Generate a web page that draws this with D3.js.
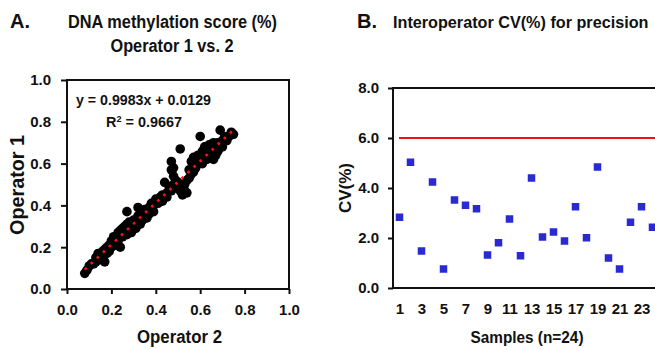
<!DOCTYPE html>
<html>
<head>
<meta charset="utf-8">
<script src="https://cdn.jsdelivr.net/npm/d3@7"></script>
<style>
html,body{margin:0;padding:0;background:#fff;}
svg{display:block;}
text{font-family:"Liberation Sans",Arial,Helvetica,sans-serif;font-weight:bold;fill:#111;}
</style>
</head>
<body>
<svg id="chart" width="655" height="350"></svg>
<script>
// ---------- Panel A data (Operator 2 = x, Operator 1 = y) ----------
const operator2 = [0.08,0.09,0.10,0.11,0.12,0.13,0.13,0.14,0.15,0.15,0.16,0.16,0.17,0.17,0.18,0.18,0.19,0.19,0.20,0.20,
  0.21,0.21,0.22,0.22,0.23,0.23,0.24,0.24,0.24,0.25,0.25,0.26,0.26,0.27,0.27,0.27,0.28,0.28,0.29,0.29,
  0.30,0.30,0.31,0.31,0.32,0.32,0.33,0.33,0.34,0.34,0.35,0.35,0.36,0.36,0.37,0.37,0.38,0.38,0.39,0.39,
  0.40,0.40,0.41,0.42,0.42,0.43,0.43,0.44,0.44,0.45,0.45,0.46,0.46,0.47,0.47,0.47,0.48,0.48,0.48,0.49,
  0.49,0.50,0.50,0.51,0.51,0.52,0.52,0.53,0.53,0.54,0.54,0.55,0.55,0.56,0.56,0.57,0.57,0.57,0.58,0.58,
  0.59,0.59,0.60,0.60,0.61,0.61,0.62,0.62,0.63,0.63,0.64,0.64,0.65,0.65,0.66,0.66,0.67,0.67,0.68,0.68,
  0.69,0.70,0.70,0.71,0.72,0.73,0.74,0.75];
const operator1 = [0.075,0.09,0.11,0.12,0.12,0.15,0.13,0.17,0.14,0.16,0.18,0.15,0.19,0.13,0.17,0.20,0.21,0.18,0.23,0.20,
  0.22,0.25,0.21,0.24,0.27,0.23,0.26,0.20,0.28,0.25,0.29,0.27,0.30,0.37,0.26,0.31,0.28,0.32,0.30,0.27,
  0.33,0.30,0.32,0.29,0.35,0.39,0.33,0.31,0.36,0.33,0.35,0.38,0.34,0.37,0.39,0.36,0.41,0.38,0.40,0.37,
  0.42,0.43,0.41,0.43,0.44,0.45,0.42,0.51,0.45,0.46,0.44,0.47,0.49,0.61,0.57,0.47,0.58,0.54,0.50,0.49,
  0.52,0.48,0.51,0.47,0.67,0.46,0.45,0.47,0.50,0.52,0.46,0.53,0.57,0.55,0.61,0.60,0.63,0.56,0.62,0.58,
  0.60,0.64,0.62,0.73,0.66,0.60,0.64,0.68,0.62,0.66,0.65,0.69,0.63,0.67,0.70,0.62,0.68,0.64,0.66,0.70,
  0.76,0.71,0.68,0.73,0.71,0.73,0.75,0.74];
const trendSlope = 0.9983, trendIntercept = 0.0129;
const trendRange = [0.08, 0.75];
const axisTicksA = [0, 0.2, 0.4, 0.6, 0.8, 1.0];

// ---------- Panel B data ----------
const samples = d3.range(1, 25);
const cvValues = [2.83,5.03,1.48,4.24,0.76,3.52,3.31,3.17,1.32,1.81,2.76,1.29,4.40,2.04,2.24,1.88,3.25,2.01,4.84,1.20,0.76,2.63,3.25,2.43];
const cvLimit = 6.0;
const sampleTicks = [1,3,5,7,9,11,13,15,17,19,21,23];
const cvTicks = [0, 2, 4, 6, 8];

const svg = d3.select("#chart");
const ink = "#111";

function label(x, y, str, size, opts = {}) {
  const t = svg.append("text").attr("x", x).attr("y", y).text(str)
    .attr("font-size", size).attr("text-anchor", opts.anchor || "middle");
  if (opts.len) t.attr("textLength", opts.len).attr("lengthAdjust", "spacingAndGlyphs");
  if (opts.rotate) t.attr("transform", `rotate(-90 ${x} ${y})`);
  return t;
}

// ================= Panel A =================
const xA = d3.scaleLinear().domain([0, 1]).range([67, 289]);
const yA = d3.scaleLinear().domain([0, 1]).range([289, 80]);

label(10, 28, "A.", 20, {anchor: "start"});
label(172.5, 28, "DNA methylation score (%)", 18, {len: 209});
label(172, 52, "Operator 1 vs. 2", 18, {len: 123});

// points
svg.append("g").selectAll("circle").data(operator2.map((d, i) => [d, operator1[i]]))
  .join("circle")
  .attr("cx", d => xA(d[0])).attr("cy", d => yA(d[1])).attr("r", 4.8)
  .attr("fill", "#000");

// trendline
svg.append("line")
  .attr("x1", xA(trendRange[0])).attr("y1", yA(trendSlope * trendRange[0] + trendIntercept))
  .attr("x2", xA(trendRange[1])).attr("y2", yA(trendSlope * trendRange[1] + trendIntercept))
  .attr("stroke", "#ff1010").attr("stroke-width", 2.6).attr("stroke-dasharray", "2.6,5.7");

// frame
svg.append("rect").attr("x", xA(0)).attr("y", yA(1))
  .attr("width", xA(1) - xA(0)).attr("height", yA(0) - yA(1))
  .attr("fill", "none").attr("stroke", ink).attr("stroke-width", 2);

const fmt = d3.format(".1f");
const gxA = svg.append("g").attr("transform", `translate(0,${yA(0)})`)
  .call(d3.axisBottom(xA).tickValues(axisTicksA).tickFormat(fmt).tickSize(5).tickPadding(10));
const gyA = svg.append("g").attr("transform", `translate(${xA(0)},0)`)
  .call(d3.axisLeft(yA).tickValues(axisTicksA).tickFormat(fmt).tickSize(6).tickPadding(10));
[gxA, gyA].forEach(g => {
  g.select(".domain").remove();
  g.selectAll("line").attr("stroke", ink).attr("stroke-width", 2);
  g.selectAll("text").attr("font-size", 15).attr("fill", ink)
    .style("font-family", '"Liberation Sans",Arial,sans-serif').style("font-weight", "bold");
});
gxA.selectAll("text").attr("dy", "0.71em");

label(76, 105, "y = 0.9983x + 0.0129", 14.2, {anchor: "start", len: 135});
svg.append("text").attr("x", 106).attr("y", 127).attr("font-size", 14.2)
  .attr("textLength", 76).attr("lengthAdjust", "spacingAndGlyphs")
  .html('R<tspan font-size="9" dy="-5">2</tspan><tspan dy="5"> = 0.9667</tspan>');

label(179.5, 343, "Operator 2", 18, {len: 85});
label(24, 185, "Operator 1", 20, {rotate: true, len: 100});

// ================= Panel B =================
const xB = d3.scaleLinear().domain([1, 23]).range([399.5, 641.5]);
const yB = d3.scaleLinear().domain([0, 8]).range([288, 88]);
const leftB = 393, rightB = 700;

label(357, 28, "B.", 20, {anchor: "start"});
label(393, 28, "Interoperator CV(%) for precision", 16.2, {anchor: "start"});

// frame lines
svg.append("line").attr("x1", leftB).attr("x2", rightB).attr("y1", yB(8)).attr("y2", yB(8))
  .attr("stroke", ink).attr("stroke-width", 2);
svg.append("line").attr("x1", leftB).attr("x2", rightB).attr("y1", yB(0)).attr("y2", yB(0))
  .attr("stroke", ink).attr("stroke-width", 2);
svg.append("line").attr("x1", leftB).attr("x2", leftB).attr("y1", yB(8) - 1).attr("y2", yB(0) + 1)
  .attr("stroke", ink).attr("stroke-width", 2);

// limit line
svg.append("line").attr("x1", xB(1) - 0.5).attr("x2", rightB).attr("y1", yB(cvLimit)).attr("y2", yB(cvLimit))
  .attr("stroke", "#ee1111").attr("stroke-width", 2);

// markers
const sq = 7.5;
svg.append("g").selectAll("rect").data(samples.map((s, i) => [s, cvValues[i]]))
  .join("rect")
  .attr("x", d => xB(d[0]) - sq / 2).attr("y", d => yB(d[1]) - sq / 2)
  .attr("width", sq).attr("height", sq).attr("fill", "#2a2ad2");

const gyB = svg.append("g").attr("transform", `translate(${leftB},0)`)
  .call(d3.axisLeft(yB).tickValues(cvTicks).tickFormat(fmt).tickSize(5).tickPadding(9));
const gxB = svg.append("g").attr("transform", `translate(0,${yB(0)})`)
  .call(d3.axisBottom(xB).tickValues(sampleTicks).tickFormat(d3.format("d")).tickSize(0).tickPadding(15));
[gxB, gyB].forEach(g => {
  g.select(".domain").remove();
  g.selectAll("line").attr("stroke", ink).attr("stroke-width", 2);
  g.selectAll("text").attr("font-size", 15).attr("fill", ink)
    .style("font-family", '"Liberation Sans",Arial,sans-serif').style("font-weight", "bold");
});
gxB.selectAll("text").attr("dy", "0.71em");

label(527, 343, "Samples (n=24)", 17, {len: 113});
label(351, 188, "CV(%)", 17, {rotate: true, len: 50});
</script>
</body>
</html>
